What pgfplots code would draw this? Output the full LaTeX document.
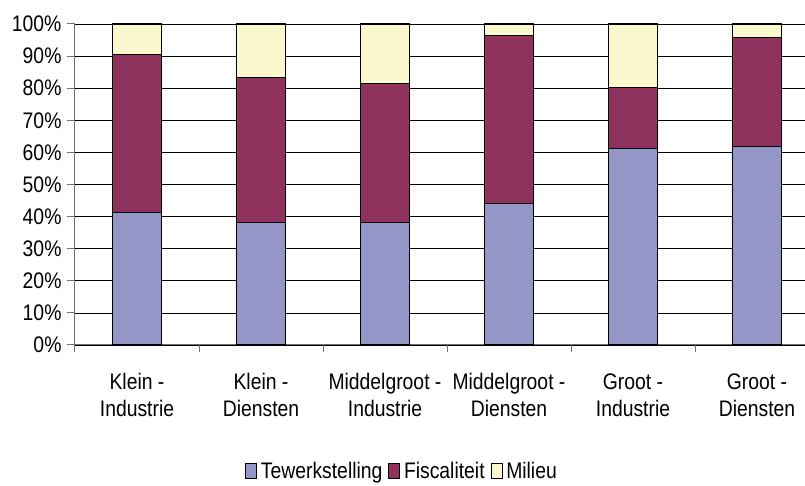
\documentclass[border=0pt]{standalone}
\usepackage{fontspec}
\setmainfont[FakeStretch=0.86]{Liberation Sans}
\usepackage{pgfplots}
\pgfplotsset{compat=1.18}
\definecolor{cTew}{RGB}{148,150,200}
\definecolor{cFis}{RGB}{144,50,94}
\definecolor{cMil}{RGB}{250,248,204}
\definecolor{cAx}{RGB}{110,110,110}
\begin{document}
\begin{tikzpicture}[font=\fontsize{22.5}{27}\selectfont]
\begin{axis}[
  at={(75pt,141pt)}, anchor=south west,
  scale only axis, width=730pt, height=321pt,
  clip=false,
  ybar stacked, bar width=49pt,
  xmin=-0.5, xmax=5.387, ymin=0, ymax=100,
  axis x line=bottom, axis y line=left,
  axis line style={cAx, line width=1pt, -},
  ytick={0,10,...,100},
  yticklabel={\pgfmathprintnumber{\tick}\%},
  /pgf/number format/assume math mode=true,
  ymajorgrids, major grid style={black, line width=0.7pt},
  tick align=outside,
  major tick length=8pt, minor tick length=7pt,
  every tick/.style={cAx, line width=1pt},
  xtick={0,...,5},
  major x tick style={draw=none},
  minor xtick={-0.5,0.5,1.5,2.5,3.5,4.5},
  xticklabels={{Klein -\\Industrie},{Klein -\\Diensten},{Middelgroot -\\Industrie},{Middelgroot -\\Diensten},{Groot -\\Industrie},{Groot -\\Diensten}},
  xticklabel style={align=center, yshift=-17pt},
  yticklabel style={xshift=-2pt},
  legend style={at={(0.448,-0.392)}, anchor=center, legend columns=-1, draw=none, fill=none,
    /tikz/every odd column/.append style={column sep=2pt},
    /tikz/every even column/.append style={column sep=4pt}},
  legend image code/.code={\draw[#1, draw=black, line width=0.6pt] (0pt,-7pt) rectangle (11pt,8pt);},
]
\addplot[fill=cTew, draw=black, line width=1.1pt] coordinates {(0,41.4) (1,38.2) (2,38.2) (3,44.0) (4,61.2) (5,61.8)};
\addplot[fill=cFis, draw=black, line width=1.1pt] coordinates {(0,49.2) (1,45.2) (2,43.3) (3,52.5) (4,18.9) (5,34.1)};
\addplot[fill=cMil, draw=black, line width=1.1pt] coordinates {(0,9.4) (1,16.6) (2,18.5) (3,3.5) (4,19.9) (5,4.1)};
\legend{Tewerkstelling, Fiscaliteit, Milieu}
\end{axis}
\pgfresetboundingbox
\path (0,0) rectangle (805pt,486pt);
\end{tikzpicture}
\end{document}
